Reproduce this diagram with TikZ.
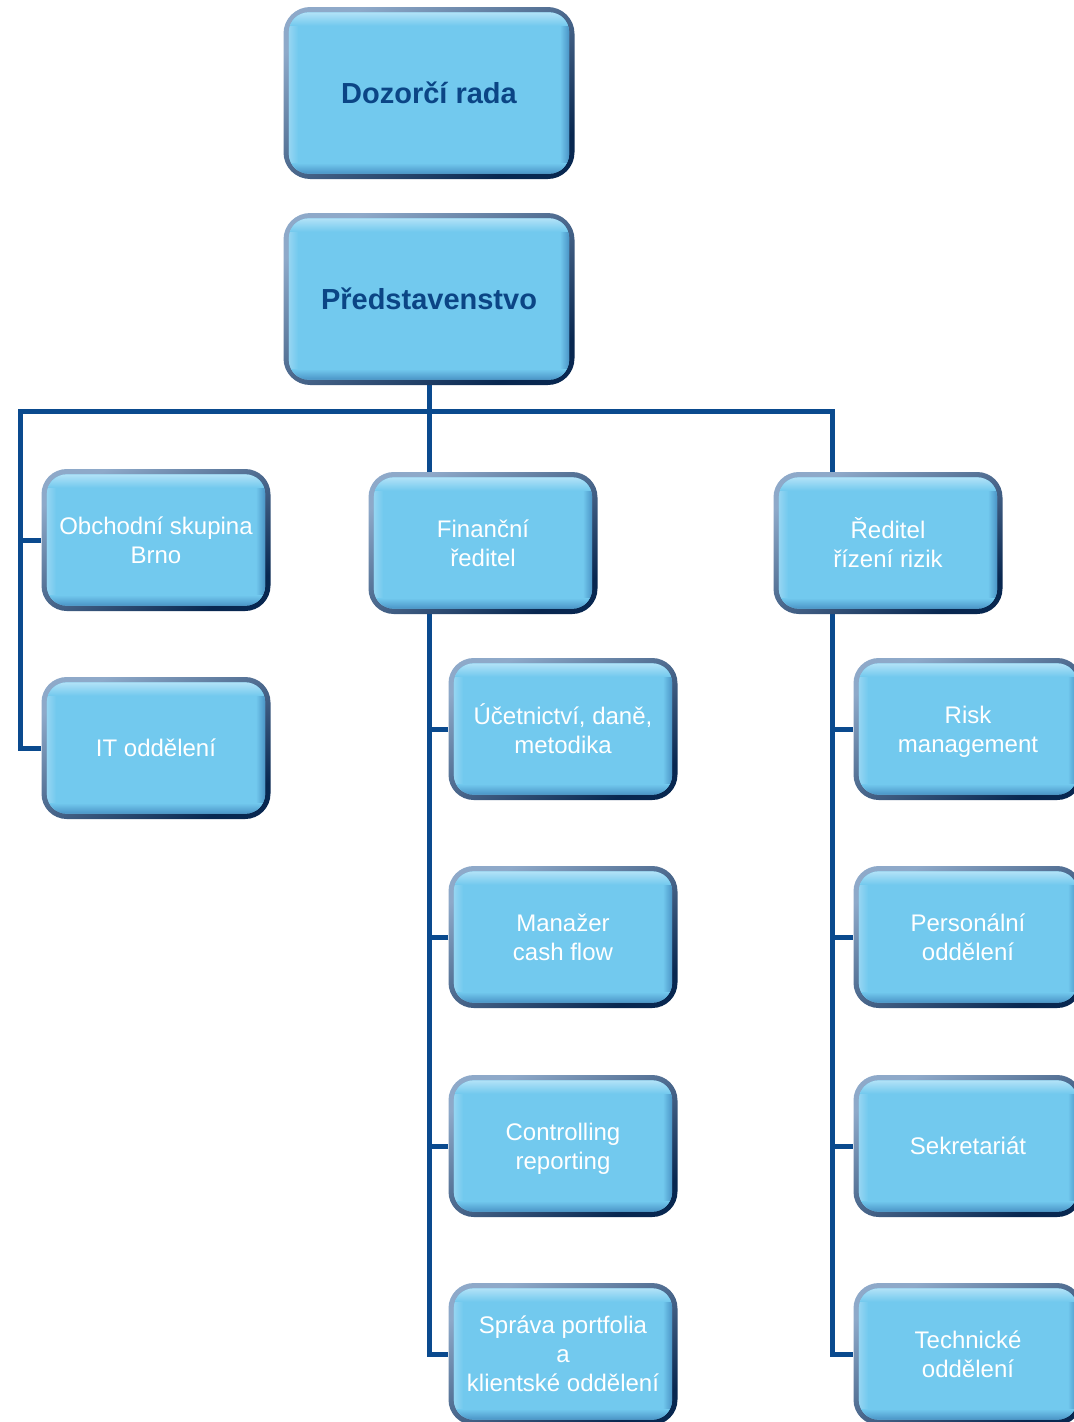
\documentclass[tikz,border=0pt]{standalone}
\usepackage{fontspec}
\setmainfont{Liberation Sans}
\usetikzlibrary{backgrounds}
\definecolor{boxfill}{HTML}{72C9EE}
\definecolor{boxhl}{HTML}{B2E2F7}
\definecolor{boxhlb}{HTML}{95D5F2}
\definecolor{bevdark}{HTML}{4A94C6}
\definecolor{bordlight}{HTML}{8EA9C9}
\definecolor{borddark}{HTML}{082750}
\definecolor{linecol}{HTML}{0A4A8E}
\definecolor{titleblue}{HTML}{0B4585}
\newcommand\bevelbox{%
  \path (path picture bounding box.south west) coordinate (bsw)
        (path picture bounding box.north east) coordinate (bne)
        (path picture bounding box.north west) coordinate (bnw)
        (path picture bounding box.south east) coordinate (bse);
  \begin{scope}
    \clip[rounded corners=15pt] ([shift={(4pt,4pt)}]bsw) rectangle ([shift={(-4pt,-4pt)}]bne);
    \fill[boxfill, sharp corners] (bsw) rectangle (bne);
    \shade[sharp corners, left color=boxhlb, right color=boxfill] ([shift={(4pt,4pt)}]bsw) rectangle ([shift={(11pt,-4pt)}]bnw);
    \shade[sharp corners, left color=boxfill, right color=bevdark] ([shift={(-11pt,4pt)}]bse) rectangle ([shift={(-4pt,-4pt)}]bne);
    \shade[sharp corners, top color=boxhl, bottom color=boxfill] ([shift={(4pt,-4pt)}]bnw) rectangle ([shift={(-4pt,-14pt)}]bne);
    \shade[sharp corners, top color=boxfill, bottom color=bevdark] ([shift={(4pt,4pt)}]bsw) rectangle ([shift={(-4pt,12pt)}]bse);
  \end{scope}}
\tikzset{
  orgbox/.style={rectangle, rounded corners=19pt, minimum width=171.75pt,
    minimum height=106.5pt, inner sep=0pt, align=center, text=white,
    font=\fontsize{18}{21.75}\selectfont,
    preaction={top color=bordlight, bottom color=borddark, shading angle=30},
    path picture={\bevelbox}},
  topbox/.style={orgbox, rounded corners=20pt, minimum width=218.25pt, minimum height=129pt,
    text=titleblue, font=\bfseries\fontsize{21.75}{26}\selectfont},
  conn/.style={draw=linecol, line width=3.75pt, line join=miter}
}
\begin{document}
\begin{tikzpicture}[x=0.75pt, y=-0.75pt]
\useasboundingbox (0,0) rectangle (1074,1422);
\clip (0,0) rectangle (1074,1422);

\node[topbox] (dozor) at (429,93) {Dozorčí rada};
\node[topbox] (pred) at (429,299) {Představenstvo};

\node[orgbox] (obch) at (156,540) {Obchodní skupina\\Brno};
\node[orgbox] (it) at (156,748) {IT oddělení};
\node[orgbox] (fin) at (483,543) {Finanční\\ředitel};
\node[orgbox] (rr) at (888,543) {Ředitel\\řízení rizik};

\node[orgbox] (ucet) at (563,729) {Účetnictví, daně,\\metodika};
\node[orgbox] (cash) at (563,937) {Manažer\\cash flow};
\node[orgbox] (ctrl) at (563,1146) {Controlling\\\smash{reporting}};
\node[orgbox] (sprava) at (563,1354) {Správa portfolia\\a\\klientské oddělení};

\node[orgbox] (risk) at (968,729) {Risk\\\smash{management}};
\node[orgbox] (pers) at (968,937) {Personální\\oddělení};
\node[orgbox] (sekr) at (968,1146) {Sekretariát};
\node[orgbox] (tech) at (968,1354) {Technické\\oddělení};

\coordinate (busL) at (20,411);
\coordinate (busR) at (832,411);

\begin{scope}[on background layer]
\fill[white] (0,0) rectangle (1074,1422);
\draw[conn] (pred.south) -- (pred.south |- fin.north);
\draw[conn] (it.west) -| (busL) -- (busR) -- (busR |- rr.north);
\draw[conn] (obch.west) -- (obch.west -| busL);

\draw[conn] (pred.south |- fin.south) |- (sprava.west);
\draw[conn] (ucet.west) -- (ucet.west -| pred.south);
\draw[conn] (cash.west) -- (cash.west -| pred.south);
\draw[conn] (ctrl.west) -- (ctrl.west -| pred.south);

\draw[conn] (busR |- rr.south) |- (tech.west);
\draw[conn] (risk.west) -- (risk.west -| busR);
\draw[conn] (pers.west) -- (pers.west -| busR);
\draw[conn] (sekr.west) -- (sekr.west -| busR);
\end{scope}
\end{tikzpicture}
\end{document}
